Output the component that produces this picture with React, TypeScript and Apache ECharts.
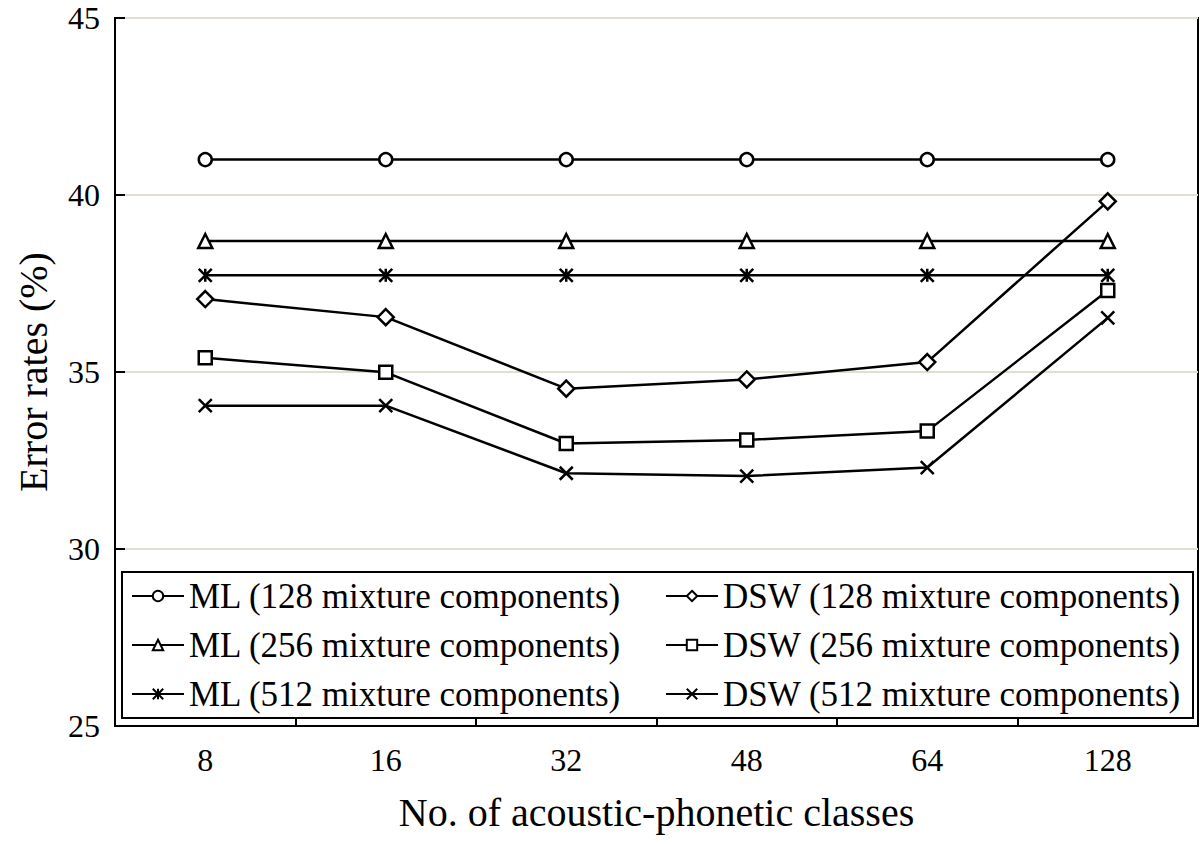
import React, { useEffect, useRef } from "react";
import * as echarts from "echarts";

const categories = ["8", "16", "32", "48", "64", "128"];
const yTicks = [25, 30, 35, 40, 45];

const ml128 = [41.0, 41.0, 41.0, 41.0, 41.0, 41.0];
const ml256 = [38.7, 38.7, 38.7, 38.7, 38.7, 38.7];
const ml512 = [37.73, 37.73, 37.73, 37.73, 37.73, 37.73];
const dsw128 = [37.06, 36.55, 34.53, 34.79, 35.28, 39.82];
const dsw256 = [35.4, 34.99, 32.98, 33.08, 33.33, 37.3];
const dsw512 = [34.05, 34.05, 32.14, 32.06, 32.3, 36.53];

const names = [
  "ML (128 mixture components)",
  "ML (256 mixture components)",
  "ML (512 mixture components)",
  "DSW (128 mixture components)",
  "DSW (256 mixture components)",
  "DSW (512 mixture components)",
];

const FONT = "Liberation Serif";
const ASTERISK = "path://M0,0L10,10M0,10L10,0M5,0L5,10";
const CROSS = "path://M0,0L10,10M0,10L10,0";

function mkSeries(name: string, data: number[], symbol: string, size: number | number[]) {
  return {
    name,
    type: "line",
    data,
    symbol,
    symbolSize: size,
    showAllSymbol: true,
    lineStyle: { color: "#000", width: 2.5 },
    itemStyle: { color: "#fff", borderColor: "#000", borderWidth: 2.5 },
    emphasis: { disabled: true },
    z: 3,
  };
}

export default function App() {
  const ref = useRef<HTMLDivElement>(null);
  useEffect(() => {
    if (!ref.current) return;
    const chart = echarts.init(ref.current, null, { renderer: "svg" });
    const legendText = { fontSize: 35, lineHeight: 36, fontFamily: FONT, color: "#000" };
    chart.setOption({
      animation: false,
      backgroundColor: "#fff",
      textStyle: { fontFamily: FONT, color: "#000" },
      grid: {
        left: 115,
        right: 2,
        top: 18,
        bottom: 118,
        show: true,
        borderColor: "#000",
        borderWidth: 2,
      },
      xAxis: {
        type: "category",
        data: categories,
        boundaryGap: true,
        name: "No. of acoustic-phonetic classes",
        nameLocation: "middle",
        nameGap: 66,
        nameTextStyle: { fontSize: 40, fontFamily: FONT, color: "#000" },
        axisLine: { lineStyle: { color: "#000", width: 2 } },
        axisTick: { show: true, inside: true, length: 8, lineStyle: { color: "#000", width: 2 } },
        axisLabel: {
          fontSize: 32,
          fontFamily: FONT,
          color: "#000",
          margin: 18,
          textStyle: { fontSize: 32, fontFamily: FONT, color: "#000" },
        },
        splitLine: { show: false },
      },
      yAxis: {
        type: "value",
        min: yTicks[0],
        max: yTicks[yTicks.length - 1],
        interval: 5,
        name: "Error rates (%)",
        nameLocation: "middle",
        nameGap: 62,
        nameTextStyle: { fontSize: 40, fontFamily: FONT, color: "#000" },
        axisLine: { show: true, lineStyle: { color: "#000", width: 2 } },
        axisTick: { show: true, inside: true, length: 10, lineStyle: { color: "#000", width: 2 } },
        axisLabel: {
          fontSize: 32,
          fontFamily: FONT,
          color: "#000",
          margin: 15,
        },
        splitLine: { show: true, lineStyle: { color: "#e2dfcf", width: 2 } },
      },
      legend: [
        {
          data: names.slice(0, 3),
          orient: "vertical",
          left: 131,
          top: 578,
          padding: 0,
          itemWidth: 52,
          itemHeight: 13,
          itemGap: 13,
          selectedMode: false,
          textStyle: legendText,
        },
        {
          data: names.slice(3),
          orient: "vertical",
          left: 665,
          top: 578,
          padding: 0,
          itemWidth: 52,
          itemHeight: 13,
          itemGap: 13,
          selectedMode: false,
          textStyle: legendText,
        },
      ],
      graphic: [
        {
          type: "rect",
          shape: { x: 122, y: 572, width: 1071, height: 146 },
          style: { fill: "none", stroke: "#000", lineWidth: 2 },
          z: 1,
        },
      ],
      series: [
        mkSeries(names[0], ml128, "circle", 13),
        mkSeries(names[1], ml256, "triangle", 14),
        mkSeries(names[2], ml512, ASTERISK, 13),
        mkSeries(names[3], dsw128, "diamond", 16),
        mkSeries(names[4], dsw256, "rect", 13),
        mkSeries(names[5], dsw512, CROSS, 13),
      ],
    });
    return () => chart.dispose();
  }, []);
  return (
    <div
      ref={ref}
      style={{ position: "fixed", left: 0, top: 0, width: 1200, height: 844, background: "#fff" }}
    />
  );
}
